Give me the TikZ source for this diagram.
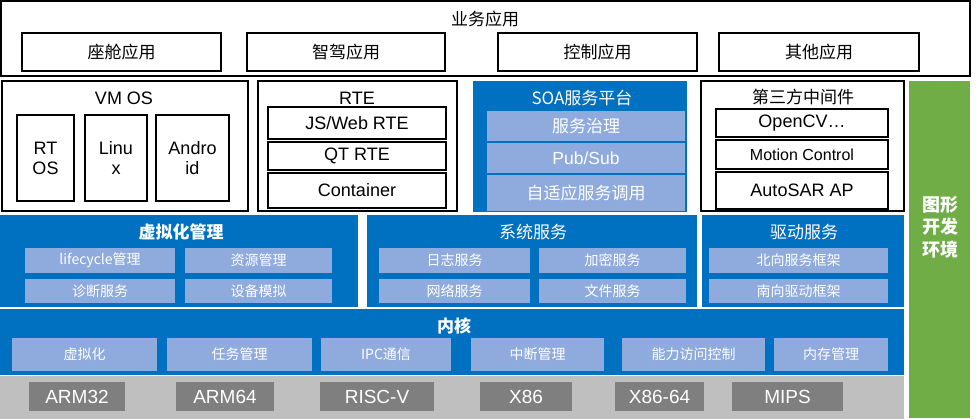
\documentclass[tikz,border=0pt]{standalone}
\usepackage{fontspec}
\setmainfont{Liberation Sans}
\newfontfamily\cjk{Noto Sans CJK SC}
\definecolor{panelblue}{HTML}{0070C0}
\definecolor{itemblue}{HTML}{8FAADC}
\definecolor{envgreen}{HTML}{70AD47}
\definecolor{hwgray}{HTML}{BFBFBF}
\definecolor{chipgray}{HTML}{7F7F7F}
\newcommand\bx[7]{\node[#6, minimum width={#4-#2}, minimum height={#5-#3}] (#1) at ({(#2+#4)/2},{(#3+#5)/2}) {#7};}
\begin{document}
\begin{tikzpicture}[x=1pt,y=-1pt,
  wbox/.style={draw=black, line width=2pt, fill=white, inner sep=0pt},
  bluepanel/.style={fill=panelblue, inner sep=0pt},
  itembox/.style={fill=itemblue, text=white, inner sep=0pt},
  chipbox/.style={fill=chipgray, text=white, inner sep=0pt, font=\fontsize{19}{22}\selectfont},
  zh/.style={font=\cjk\fontsize{17}{20}\selectfont},
  zhs/.style={font=\cjk\fontsize{14}{16}\selectfont},
  zhb/.style={font=\cjk\bfseries\fontsize{17}{20}\selectfont},
  en/.style={font=\fontsize{18}{20}\selectfont},
  ens/.style={font=\fontsize{16}{19}\selectfont},
  ttl/.style={inner sep=0pt}
]
\useasboundingbox[fill=white] (0,0) rectangle (977,419);

% ---------- business applications ----------
\bx{biz}{1}{1}{970}{76}{wbox}{}
\node[ttl,zh] (bizt) at (485,19) {业务应用};
\bx{cockpit}{22}{33}{221}{71}{wbox,zh}{座舱应用}
\bx{drive}{247}{33}{445}{71}{wbox,zh}{智驾应用}
\bx{ctrl}{498}{33}{697}{71}{wbox,zh}{控制应用}
\bx{other}{719}{33}{919}{71}{wbox,zh}{其他应用}

% ---------- VM OS ----------
\bx{vmos}{2}{81}{248}{211}{wbox}{}
\node[ttl,en] (vmost) at (124,98) {VM OS};
\bx{rtos}{17}{115}{74}{201}{wbox,en,align=center}{RT\\OS}
\bx{linux}{85}{115}{147}{201}{wbox,en,align=center}{Linu\\x}
\bx{android}{156}{115}{229}{201}{wbox,en,align=center}{Andro\\id}

% ---------- RTE ----------
\bx{rte}{258}{81}{457}{211}{wbox}{}
\node[ttl,en] (rtet) at (357,98) {RTE};
\bx{jsrte}{268}{107}{446}{139}{wbox,en}{JS/Web RTE}
\bx{qtrte}{268}{142}{446}{170}{wbox,en}{QT RTE}
\bx{container}{268}{173}{446}{208}{wbox,en}{Container}

% ---------- SOA ----------
\bx{soa}{473}{81}{687}{212}{bluepanel}{}
\node[ttl,zh,text=white] (soat) at (582,98) {SOA服务平台};
\bx{gov}{487}{111}{685}{141}{itembox,zh}{服务治理}
\bx{pubsub}{487}{143}{685}{173}{itembox,font=\fontsize{17.5}{20}\selectfont}{Pub/Sub}
\bx{adapt}{487}{175}{685}{211}{itembox,zh}{自适应服务调用}

% ---------- third party ----------
\bx{third}{701}{81}{904}{211}{wbox}{}
\node[ttl,zh] (thirdt) at (803,97) {第三方中间件};
\bx{opencv}{716}{109}{888}{137}{wbox,en}{OpenCV…}
\bx{motion}{716}{140}{888}{169}{wbox,ens}{Motion Control}
\bx{autosar}{716}{172}{888}{209}{wbox,en}{AutoSAR AP}

% ---------- green env ----------
\bx{env}{909}{81}{970}{418}{fill=envgreen,inner sep=0pt}{}
\node[ttl,text=white,align=center,font=\cjk\bfseries\fontsize{18}{22.5}\selectfont] (envt) at (940,227) {图形\\开发\\环境};

% ---------- virtualization management ----------
\bx{virt}{0}{215}{358}{307}{bluepanel}{}
\node[ttl,zhb,text=white] (virtt) at (181,232) {虚拟化管理};
\bx{life}{25}{248}{175}{273}{itembox,zhs}{lifecycle管理}
\bx{res}{185}{248}{332}{273}{itembox,zhs}{资源管理}
\bx{diag}{25}{279}{175}{303}{itembox,zhs}{诊断服务}
\bx{devsim}{185}{279}{332}{303}{itembox,zhs}{设备模拟}

% ---------- system services ----------
\bx{sys}{367}{215}{697}{307}{bluepanel}{}
\node[ttl,zh,text=white] (syst) at (533,232) {系统服务};
\bx{log}{379}{248}{530}{273}{itembox,zhs}{日志服务}
\bx{crypt}{539}{248}{686}{273}{itembox,zhs}{加密服务}
\bx{net}{379}{279}{530}{303}{itembox,zhs}{网络服务}
\bx{file}{539}{279}{686}{303}{itembox,zhs}{文件服务}

% ---------- driver services ----------
\bx{drv}{702}{215}{904}{307}{bluepanel}{}
\node[ttl,zh,text=white] (drvt) at (804,232) {驱动服务};
\bx{north}{709}{248}{888}{273}{itembox,zhs}{北向服务框架}
\bx{south}{709}{279}{888}{303}{itembox,zhs}{南向驱动框架}

% ---------- kernel ----------
\bx{kernel}{0}{309}{904}{375}{bluepanel}{}
\node[ttl,zhb,text=white] (kernelt) at (454,326) {内核};
\bx{kvirt}{12}{338}{157}{371}{itembox,zhs}{虚拟化}
\bx{task}{167}{338}{312}{371}{itembox,zhs}{任务管理}
\bx{ipc}{321}{338}{451}{371}{itembox,zhs}{IPC通信}
\bx{irq}{471}{338}{604}{371}{itembox,zhs}{中断管理}
\bx{cap}{622}{338}{765}{371}{itembox,zhs}{能力访问控制}
\bx{mem}{774}{338}{888}{371}{itembox,zhs}{内存管理}

% ---------- hardware ----------
\bx{hw}{0}{376}{904}{419}{fill=hwgray,inner sep=0pt}{}
\bx{arm32}{29}{382}{125}{411}{chipbox}{ARM32}
\bx{arm64}{176}{382}{274}{411}{chipbox}{ARM64}
\bx{riscv}{320}{382}{434}{411}{chipbox}{RISC-V}
\bx{x86}{480}{382}{572}{411}{chipbox}{X86}
\bx{x8664}{615}{382}{704}{411}{chipbox}{X86-64}
\bx{mips}{732}{382}{843}{411}{chipbox}{MIPS}
\end{tikzpicture}
\end{document}
